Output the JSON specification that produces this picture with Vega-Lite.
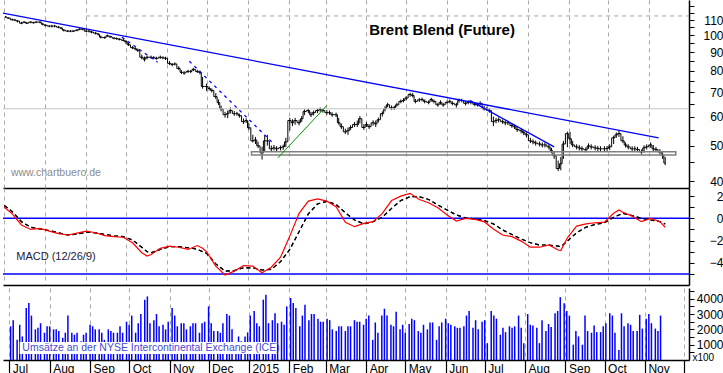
{
"$schema":"https://vega.github.io/schema/vega-lite/v6.json",
"padding":0,
"spacing":0,
"background":"white",
"config":{"view":{"stroke":null},"font":"Liberation Sans","concat":{"spacing":0},
"axis":{"labelFont":"Liberation Sans","labelColor":"black","domainColor":"black","tickColor":"black","labelFontSize":12,"title":null,"labelOverlap":false,"labelFlush":false}},
"datasets":{
"px":[
{"d":"2014-07-02","c":112.1,"h":112.9,"l":111.5,"v":2200},
{"d":"2014-07-04","c":111.4,"h":112.0,"l":110.9,"v":2600},
{"d":"2014-07-07","c":110.3,"h":111.0,"l":109.6,"v":1320},
{"d":"2014-07-09","c":110.0,"h":110.8,"l":109.3,"v":2300},
{"d":"2014-07-11","c":109.3,"h":110.0,"l":108.4,"v":1540},
{"d":"2014-07-14","c":107.9,"h":108.8,"l":107.2,"v":3400},
{"d":"2014-07-16","c":108.6,"h":109.3,"l":107.9,"v":3720},
{"d":"2014-07-18","c":107.9,"h":108.8,"l":107.3,"v":2900},
{"d":"2014-07-21","c":108.6,"h":109.2,"l":107.8,"v":2000},
{"d":"2014-07-23","c":108.2,"h":108.9,"l":107.6,"v":2100},
{"d":"2014-07-25","c":108.6,"h":109.4,"l":107.9,"v":2400},
{"d":"2014-07-28","c":108.6,"h":109.2,"l":107.8,"v":1780},
{"d":"2014-07-30","c":107.2,"h":108.0,"l":106.5,"v":2200},
{"d":"2014-08-01","c":106.5,"h":107.2,"l":105.7,"v":2200},
{"d":"2014-08-04","c":105.9,"h":106.6,"l":105.2,"v":2000},
{"d":"2014-08-06","c":105.9,"h":106.8,"l":105.0,"v":2000},
{"d":"2014-08-08","c":105.9,"h":106.7,"l":105.1,"v":1890},
{"d":"2014-08-11","c":105.2,"h":105.9,"l":104.5,"v":1450},
{"d":"2014-08-13","c":104.6,"h":105.3,"l":103.8,"v":1780},
{"d":"2014-08-15","c":103.2,"h":104.0,"l":102.4,"v":2900},
{"d":"2014-08-18","c":102.6,"h":103.3,"l":102.0,"v":1780},
{"d":"2014-08-20","c":102.6,"h":103.3,"l":101.9,"v":1650},
{"d":"2014-08-22","c":102.6,"h":103.4,"l":102.0,"v":1780},
{"d":"2014-08-25","c":103.2,"h":103.9,"l":102.5,"v":1230},
{"d":"2014-08-27","c":103.9,"h":104.5,"l":103.2,"v":1650},
{"d":"2014-08-29","c":103.9,"h":104.6,"l":103.2,"v":1780},
{"d":"2014-09-01","c":102.6,"h":104.0,"l":102.0,"v":2300},
{"d":"2014-09-03","c":102.6,"h":103.3,"l":101.8,"v":2200},
{"d":"2014-09-05","c":102.0,"h":102.8,"l":101.2,"v":2000},
{"d":"2014-09-08","c":101.3,"h":102.0,"l":100.5,"v":2000},
{"d":"2014-09-10","c":100.7,"h":101.4,"l":99.9,"v":1780},
{"d":"2014-09-12","c":98.8,"h":99.8,"l":98.0,"v":1320},
{"d":"2014-09-15","c":98.5,"h":99.3,"l":97.8,"v":2000},
{"d":"2014-09-17","c":99.7,"h":100.4,"l":99.0,"v":1890},
{"d":"2014-09-19","c":99.1,"h":99.8,"l":98.3,"v":1780},
{"d":"2014-09-22","c":98.2,"h":98.9,"l":97.5,"v":1780},
{"d":"2014-09-24","c":97.9,"h":98.6,"l":97.2,"v":2200},
{"d":"2014-09-26","c":97.5,"h":98.2,"l":96.8,"v":1780},
{"d":"2014-09-29","c":96.9,"h":97.7,"l":96.2,"v":2500},
{"d":"2014-10-01","c":96.0,"h":97.0,"l":94.8,"v":2300},
{"d":"2014-10-03","c":94.2,"h":95.5,"l":93.5,"v":2900},
{"d":"2014-10-06","c":92.5,"h":93.4,"l":91.7,"v":1780},
{"d":"2014-10-08","c":91.9,"h":92.8,"l":91.0,"v":2400},
{"d":"2014-10-10","c":91.0,"h":92.0,"l":90.0,"v":3000},
{"d":"2014-10-13","c":87.1,"h":88.6,"l":86.0,"v":3940},
{"d":"2014-10-15","c":86.0,"h":87.5,"l":84.8,"v":4150},
{"d":"2014-10-17","c":87.1,"h":88.0,"l":86.0,"v":2400},
{"d":"2014-10-20","c":87.1,"h":88.0,"l":86.3,"v":2600},
{"d":"2014-10-22","c":86.8,"h":87.7,"l":86.0,"v":3000},
{"d":"2014-10-24","c":86.5,"h":87.4,"l":85.7,"v":2200},
{"d":"2014-10-27","c":87.1,"h":88.0,"l":86.2,"v":2300},
{"d":"2014-10-29","c":86.8,"h":87.6,"l":86.0,"v":2000},
{"d":"2014-10-31","c":86.5,"h":87.4,"l":85.6,"v":2500},
{"d":"2014-11-03","c":83.8,"h":85.0,"l":83.0,"v":3400},
{"d":"2014-11-05","c":83.2,"h":84.0,"l":82.3,"v":2900},
{"d":"2014-11-07","c":83.5,"h":84.3,"l":82.7,"v":2200},
{"d":"2014-11-10","c":81.2,"h":82.3,"l":80.3,"v":2400},
{"d":"2014-11-12","c":79.2,"h":80.3,"l":78.4,"v":2400},
{"d":"2014-11-14","c":78.9,"h":79.8,"l":78.0,"v":2000},
{"d":"2014-11-17","c":79.7,"h":80.5,"l":78.9,"v":2200},
{"d":"2014-11-19","c":79.7,"h":80.4,"l":78.8,"v":2400},
{"d":"2014-11-21","c":80.7,"h":81.5,"l":79.8,"v":2400},
{"d":"2014-11-24","c":79.7,"h":80.5,"l":78.9,"v":1780},
{"d":"2014-11-26","c":79.2,"h":80.1,"l":78.2,"v":2400},
{"d":"2014-11-28","c":72.5,"h":77.0,"l":71.5,"v":2500},
{"d":"2014-12-01","c":72.5,"h":73.8,"l":70.5,"v":3500},
{"d":"2014-12-03","c":71.6,"h":72.5,"l":70.7,"v":2400},
{"d":"2014-12-05","c":70.7,"h":71.6,"l":69.8,"v":1890},
{"d":"2014-12-08","c":68.0,"h":69.5,"l":67.0,"v":1890},
{"d":"2014-12-10","c":65.5,"h":66.8,"l":64.5,"v":1780},
{"d":"2014-12-12","c":63.0,"h":64.3,"l":62.0,"v":2400},
{"d":"2014-12-15","c":60.7,"h":61.8,"l":59.6,"v":3000},
{"d":"2014-12-17","c":61.1,"h":62.3,"l":59.4,"v":2900},
{"d":"2014-12-19","c":62.3,"h":63.5,"l":61.2,"v":2000},
{"d":"2014-12-22","c":61.1,"h":62.1,"l":60.3,"v":1100},
{"d":"2014-12-24","c":61.1,"h":61.8,"l":60.4,"v":1540},
{"d":"2014-12-26","c":60.3,"h":61.1,"l":59.6,"v":1230},
{"d":"2014-12-29","c":58.1,"h":59.3,"l":57.3,"v":1540},
{"d":"2014-12-31","c":58.5,"h":59.3,"l":57.6,"v":1800},
{"d":"2015-01-02","c":55.9,"h":57.5,"l":55.2,"v":2900},
{"d":"2015-01-05","c":51.5,"h":53.5,"l":51.0,"v":3200},
{"d":"2015-01-07","c":51.8,"h":52.8,"l":50.5,"v":2400},
{"d":"2015-01-09","c":49.9,"h":51.2,"l":49.2,"v":2200},
{"d":"2015-01-12","c":47.7,"h":49.6,"l":45.8,"v":3940},
{"d":"2015-01-14","c":51.5,"h":53.3,"l":48.0,"v":4260},
{"d":"2015-01-16","c":51.5,"h":53.5,"l":50.0,"v":2400},
{"d":"2015-01-19","c":49.0,"h":50.0,"l":48.3,"v":2600},
{"d":"2015-01-21","c":49.3,"h":50.2,"l":48.5,"v":3050},
{"d":"2015-01-23","c":49.0,"h":49.8,"l":48.3,"v":2400},
{"d":"2015-01-26","c":49.3,"h":50.0,"l":48.5,"v":2500},
{"d":"2015-01-28","c":49.6,"h":50.3,"l":48.7,"v":2300},
{"d":"2015-01-30","c":51.2,"h":52.5,"l":49.5,"v":3500},
{"d":"2015-02-02","c":58.5,"h":59.5,"l":55.0,"v":4050},
{"d":"2015-02-04","c":57.7,"h":59.0,"l":56.5,"v":3720},
{"d":"2015-02-06","c":58.5,"h":59.5,"l":57.0,"v":3400},
{"d":"2015-02-09","c":57.7,"h":58.8,"l":56.8,"v":2200},
{"d":"2015-02-11","c":59.2,"h":60.2,"l":58.0,"v":2900},
{"d":"2015-02-13","c":61.9,"h":62.8,"l":60.5,"v":3600},
{"d":"2015-02-16","c":62.3,"h":63.0,"l":61.3,"v":2600},
{"d":"2015-02-18","c":60.7,"h":61.8,"l":59.8,"v":3000},
{"d":"2015-02-20","c":61.5,"h":62.3,"l":60.4,"v":3000},
{"d":"2015-02-23","c":62.3,"h":63.0,"l":61.3,"v":2700},
{"d":"2015-02-25","c":62.7,"h":63.5,"l":61.8,"v":2500},
{"d":"2015-02-27","c":62.3,"h":63.0,"l":61.5,"v":2500},
{"d":"2015-03-02","c":61.5,"h":62.5,"l":60.7,"v":2700},
{"d":"2015-03-04","c":61.5,"h":62.3,"l":60.7,"v":2600},
{"d":"2015-03-06","c":60.7,"h":61.6,"l":59.9,"v":2000},
{"d":"2015-03-09","c":60.7,"h":61.5,"l":59.8,"v":1890},
{"d":"2015-03-11","c":57.7,"h":59.5,"l":57.0,"v":2200},
{"d":"2015-03-13","c":56.3,"h":57.4,"l":55.5,"v":2200},
{"d":"2015-03-16","c":54.5,"h":55.6,"l":53.8,"v":1890},
{"d":"2015-03-18","c":54.9,"h":56.0,"l":53.5,"v":2200},
{"d":"2015-03-20","c":56.0,"h":56.8,"l":55.1,"v":2200},
{"d":"2015-03-23","c":57.1,"h":58.0,"l":56.2,"v":2600},
{"d":"2015-03-25","c":57.1,"h":58.5,"l":56.2,"v":2500},
{"d":"2015-03-27","c":59.2,"h":60.2,"l":57.5,"v":2500},
{"d":"2015-03-30","c":56.0,"h":57.2,"l":55.2,"v":2300},
{"d":"2015-04-01","c":57.1,"h":58.0,"l":56.2,"v":2700},
{"d":"2015-04-03","c":56.3,"h":57.2,"l":55.5,"v":2900},
{"d":"2015-04-06","c":57.7,"h":58.6,"l":56.7,"v":1320},
{"d":"2015-04-08","c":57.3,"h":58.5,"l":56.2,"v":2450},
{"d":"2015-04-10","c":58.8,"h":59.6,"l":57.8,"v":1780},
{"d":"2015-04-13","c":61.1,"h":62.0,"l":60.0,"v":2900},
{"d":"2015-04-15","c":63.0,"h":64.0,"l":62.0,"v":3350},
{"d":"2015-04-17","c":64.6,"h":65.4,"l":63.6,"v":2900},
{"d":"2015-04-20","c":63.4,"h":64.3,"l":62.6,"v":2300},
{"d":"2015-04-22","c":63.4,"h":64.2,"l":62.6,"v":2200},
{"d":"2015-04-24","c":64.6,"h":65.4,"l":63.8,"v":3150},
{"d":"2015-04-27","c":66.0,"h":66.8,"l":65.2,"v":2000},
{"d":"2015-04-29","c":66.4,"h":67.3,"l":65.6,"v":2300},
{"d":"2015-05-01","c":67.4,"h":68.2,"l":66.5,"v":1780},
{"d":"2015-05-04","c":68.9,"h":69.7,"l":67.9,"v":2350},
{"d":"2015-05-06","c":68.5,"h":69.6,"l":67.6,"v":2700},
{"d":"2015-05-08","c":66.0,"h":67.0,"l":65.2,"v":2600},
{"d":"2015-05-11","c":66.6,"h":67.4,"l":65.8,"v":1890},
{"d":"2015-05-13","c":66.8,"h":67.6,"l":66.0,"v":1780},
{"d":"2015-05-15","c":66.0,"h":66.8,"l":65.2,"v":2300},
{"d":"2015-05-18","c":65.6,"h":66.4,"l":64.8,"v":2000},
{"d":"2015-05-20","c":66.8,"h":67.5,"l":65.9,"v":2450},
{"d":"2015-05-22","c":66.0,"h":66.8,"l":65.2,"v":2450},
{"d":"2015-05-25","c":64.6,"h":65.4,"l":63.8,"v":1320},
{"d":"2015-05-27","c":65.6,"h":66.4,"l":64.7,"v":2200},
{"d":"2015-05-29","c":64.6,"h":65.4,"l":63.8,"v":2450},
{"d":"2015-06-01","c":65.6,"h":66.4,"l":64.8,"v":2700},
{"d":"2015-06-03","c":66.0,"h":66.8,"l":65.2,"v":2400},
{"d":"2015-06-05","c":65.2,"h":66.0,"l":64.4,"v":2300},
{"d":"2015-06-08","c":64.6,"h":65.4,"l":63.5,"v":2200},
{"d":"2015-06-10","c":66.4,"h":67.2,"l":65.5,"v":2100},
{"d":"2015-06-12","c":66.4,"h":67.1,"l":65.6,"v":2100},
{"d":"2015-06-15","c":65.2,"h":66.0,"l":64.3,"v":2200},
{"d":"2015-06-17","c":65.6,"h":66.4,"l":64.8,"v":2900},
{"d":"2015-06-19","c":65.6,"h":66.3,"l":64.8,"v":3200},
{"d":"2015-06-22","c":64.8,"h":65.6,"l":64.0,"v":2100},
{"d":"2015-06-24","c":64.6,"h":65.4,"l":63.9,"v":2600},
{"d":"2015-06-26","c":65.2,"h":66.0,"l":64.3,"v":2000},
{"d":"2015-06-29","c":63.0,"h":64.2,"l":62.3,"v":2500},
{"d":"2015-07-01","c":63.0,"h":63.8,"l":62.2,"v":2600},
{"d":"2015-07-03","c":62.3,"h":63.2,"l":61.5,"v":1100},
{"d":"2015-07-06","c":58.1,"h":60.0,"l":56.5,"v":3200},
{"d":"2015-07-08","c":58.5,"h":59.5,"l":57.5,"v":2900},
{"d":"2015-07-10","c":58.8,"h":59.7,"l":57.8,"v":2700},
{"d":"2015-07-13","c":58.1,"h":58.9,"l":57.3,"v":1650},
{"d":"2015-07-15","c":57.7,"h":58.5,"l":56.8,"v":2100},
{"d":"2015-07-17","c":57.7,"h":58.4,"l":56.9,"v":1820},
{"d":"2015-07-20","c":56.7,"h":57.5,"l":55.9,"v":2200},
{"d":"2015-07-22","c":56.3,"h":57.1,"l":55.5,"v":2100},
{"d":"2015-07-24","c":55.3,"h":56.2,"l":54.5,"v":2200},
{"d":"2015-07-27","c":54.9,"h":55.7,"l":54.0,"v":2900},
{"d":"2015-07-29","c":54.2,"h":55.0,"l":53.4,"v":2100},
{"d":"2015-07-31","c":53.5,"h":54.3,"l":52.6,"v":1100},
{"d":"2015-08-03","c":51.5,"h":52.5,"l":50.8,"v":3000},
{"d":"2015-08-05","c":51.2,"h":52.0,"l":50.4,"v":2300},
{"d":"2015-08-07","c":50.8,"h":51.6,"l":50.0,"v":2250},
{"d":"2015-08-10","c":50.5,"h":51.3,"l":49.7,"v":2100},
{"d":"2015-08-12","c":50.2,"h":51.0,"l":49.4,"v":1100},
{"d":"2015-08-14","c":50.2,"h":51.0,"l":49.4,"v":2600},
{"d":"2015-08-17","c":49.6,"h":50.4,"l":48.8,"v":1890},
{"d":"2015-08-19","c":48.4,"h":49.3,"l":47.6,"v":2350},
{"d":"2015-08-21","c":46.9,"h":48.0,"l":46.0,"v":2150},
{"d":"2015-08-24","c":43.3,"h":45.5,"l":42.6,"v":3050},
{"d":"2015-08-26","c":44.6,"h":46.5,"l":42.8,"v":3200},
{"d":"2015-08-28","c":50.5,"h":51.5,"l":46.0,"v":4100},
{"d":"2015-08-31","c":53.9,"h":54.6,"l":49.5,"v":3700},
{"d":"2015-09-02","c":52.2,"h":54.5,"l":50.5,"v":3200},
{"d":"2015-09-04","c":50.2,"h":51.5,"l":49.5,"v":2900},
{"d":"2015-09-07","c":49.6,"h":50.4,"l":48.8,"v":1000},
{"d":"2015-09-09","c":49.3,"h":50.2,"l":48.5,"v":1890},
{"d":"2015-09-11","c":49.0,"h":49.8,"l":48.2,"v":1540},
{"d":"2015-09-14","c":48.7,"h":49.5,"l":47.9,"v":1000},
{"d":"2015-09-16","c":49.9,"h":50.7,"l":49.0,"v":2900},
{"d":"2015-09-18","c":49.6,"h":50.4,"l":48.8,"v":1890},
{"d":"2015-09-21","c":49.3,"h":50.1,"l":48.5,"v":1780},
{"d":"2015-09-23","c":49.1,"h":49.9,"l":48.3,"v":2250},
{"d":"2015-09-25","c":49.0,"h":49.8,"l":48.2,"v":1820},
{"d":"2015-09-28","c":49.0,"h":49.8,"l":48.1,"v":1820},
{"d":"2015-09-30","c":49.1,"h":49.9,"l":48.3,"v":2200},
{"d":"2015-10-02","c":49.6,"h":50.4,"l":48.6,"v":2400},
{"d":"2015-10-05","c":52.5,"h":53.2,"l":50.5,"v":3050},
{"d":"2015-10-07","c":53.5,"h":54.3,"l":52.5,"v":2900},
{"d":"2015-10-09","c":53.9,"h":54.8,"l":52.8,"v":1780},
{"d":"2015-10-12","c":51.5,"h":53.0,"l":50.8,"v":650},
{"d":"2015-10-14","c":50.2,"h":51.0,"l":49.4,"v":3050},
{"d":"2015-10-16","c":49.6,"h":50.4,"l":48.8,"v":2200},
{"d":"2015-10-19","c":49.0,"h":49.8,"l":48.2,"v":2400},
{"d":"2015-10-21","c":49.0,"h":49.8,"l":48.2,"v":2300},
{"d":"2015-10-23","c":48.8,"h":49.6,"l":48.0,"v":1890},
{"d":"2015-10-26","c":48.0,"h":48.8,"l":47.2,"v":1890},
{"d":"2015-10-28","c":49.3,"h":50.1,"l":47.8,"v":2950},
{"d":"2015-10-30","c":49.6,"h":50.4,"l":48.8,"v":2050},
{"d":"2015-11-02","c":50.2,"h":51.0,"l":49.3,"v":2700},
{"d":"2015-11-04","c":49.0,"h":50.2,"l":48.3,"v":3000},
{"d":"2015-11-06","c":48.8,"h":49.6,"l":48.0,"v":2400},
{"d":"2015-11-09","c":48.0,"h":48.9,"l":47.3,"v":2050},
{"d":"2015-11-11","c":47.1,"h":48.0,"l":46.0,"v":1890},
{"d":"2015-11-13","c":44.8,"h":46.5,"l":44.2,"v":2900}
],
"macd":[
{"d":"2014-07-01","m":1.0,"s":1.15},{"d":"2014-07-07","m":0.4,"s":0.6},{"d":"2014-07-14","m":-0.6,"s":-0.3},{"d":"2014-07-21","m":-1.0,"s":-0.8},{"d":"2014-07-28","m":-0.9,"s":-0.95},
{"d":"2014-08-04","m":-1.15,"s":-1.1},{"d":"2014-08-11","m":-1.37,"s":-1.3},{"d":"2014-08-18","m":-1.5,"s":-1.5},{"d":"2014-08-25","m":-1.33,"s":-1.43},
{"d":"2014-09-01","m":-1.15,"s":-1.25},{"d":"2014-09-08","m":-1.3,"s":-1.3},{"d":"2014-09-15","m":-1.55,"s":-1.45},{"d":"2014-09-22","m":-1.65,"s":-1.57},{"d":"2014-09-29","m":-1.7,"s":-1.65},
{"d":"2014-10-06","m":-2.2,"s":-1.95},{"d":"2014-10-13","m":-3.1,"s":-2.6},{"d":"2014-10-17","m":-3.4,"s":-3.0},{"d":"2014-10-20","m":-3.25,"s":-3.1},{"d":"2014-10-27","m":-2.7,"s":-2.8},
{"d":"2014-11-03","m":-2.5,"s":-2.55},{"d":"2014-11-10","m":-2.6,"s":-2.55},{"d":"2014-11-17","m":-2.8,"s":-2.65},{"d":"2014-11-21","m":-2.6,"s":-2.7},{"d":"2014-11-24","m":-2.45,"s":-2.8},{"d":"2014-11-28","m":-2.7,"s":-3.0},
{"d":"2014-12-01","m":-3.0,"s":-3.15},{"d":"2014-12-08","m":-4.3,"s":-4.1},{"d":"2014-12-15","m":-5.1,"s":-4.75},{"d":"2014-12-22","m":-4.75,"s":-4.7},{"d":"2014-12-29","m":-4.25,"s":-4.45},
{"d":"2015-01-05","m":-4.3,"s":-4.45},{"d":"2015-01-12","m":-4.9,"s":-4.65},{"d":"2015-01-19","m":-4.4,"s":-4.6},{"d":"2015-01-26","m":-3.5,"s":-3.9},
{"d":"2015-02-02","m":-1.6,"s":-2.8},{"d":"2015-02-09","m":0.45,"s":-1.2},{"d":"2015-02-16","m":1.55,"s":0.4},{"d":"2015-02-23","m":1.75,"s":1.3},
{"d":"2015-03-02","m":1.55,"s":1.52},{"d":"2015-03-09","m":1.05,"s":1.25},{"d":"2015-03-16","m":-0.35,"s":0.5},{"d":"2015-03-23","m":-0.75,"s":-0.15},{"d":"2015-03-30","m":-0.45,"s":-0.5},
{"d":"2015-04-06","m":-0.3,"s":-0.3},{"d":"2015-04-13","m":0.45,"s":0.1},{"d":"2015-04-20","m":1.6,"s":0.9},{"d":"2015-04-27","m":2.0,"s":1.6},
{"d":"2015-05-04","m":2.25,"s":1.95},{"d":"2015-05-11","m":1.7,"s":1.95},{"d":"2015-05-18","m":1.4,"s":1.7},{"d":"2015-05-25","m":0.95,"s":1.2},
{"d":"2015-06-01","m":0.3,"s":0.75},{"d":"2015-06-08","m":-0.25,"s":0.3},{"d":"2015-06-15","m":0.0,"s":0.05},{"d":"2015-06-22","m":-0.1,"s":-0.05},{"d":"2015-06-29","m":-0.3,"s":-0.2},
{"d":"2015-07-06","m":-0.95,"s":-0.5},{"d":"2015-07-13","m":-1.5,"s":-1.05},{"d":"2015-07-20","m":-1.65,"s":-1.45},{"d":"2015-07-27","m":-2.05,"s":-1.85},
{"d":"2015-08-03","m":-2.6,"s":-2.2},{"d":"2015-08-10","m":-2.6,"s":-2.4},{"d":"2015-08-17","m":-2.4,"s":-2.4},{"d":"2015-08-24","m":-2.85,"s":-2.5},{"d":"2015-08-26","m":-2.9,"s":-2.55},{"d":"2015-08-31","m":-1.75,"s":-2.05},
{"d":"2015-09-07","m":-0.7,"s":-1.3},{"d":"2015-09-14","m":-0.5,"s":-0.8},{"d":"2015-09-21","m":-0.4,"s":-0.55},{"d":"2015-09-28","m":-0.35,"s":-0.4},
{"d":"2015-10-05","m":0.45,"s":0.1},{"d":"2015-10-09","m":0.75,"s":0.3},{"d":"2015-10-12","m":0.55,"s":0.45},{"d":"2015-10-19","m":0.2,"s":0.25},{"d":"2015-10-26","m":-0.3,"s":0.0},
{"d":"2015-11-02","m":0.0,"s":-0.15},{"d":"2015-11-09","m":-0.3,"s":-0.3},{"d":"2015-11-13","m":-0.8,"s":-0.5}
],
"tr":[
{"g":"L1","s":"solid","d":"2014-06-30","p":115.0},{"g":"L1","s":"solid","d":"2015-11-08","p":52.5},
{"g":"C","s":"solid","d":"2015-06-18","p":66.4},{"g":"C","s":"solid","d":"2015-08-21","p":49.6},
{"g":"A","s":"dash","d":"2014-09-28","p":98.8},{"g":"A","s":"dash","d":"2014-10-25","p":84.4},
{"g":"B","s":"dash","d":"2014-11-18","p":84.9},{"g":"B","s":"dash","d":"2015-01-20","p":50.9},
{"g":"G","s":"green","d":"2015-01-24","p":46.3},{"g":"G","s":"green","d":"2015-03-02","p":64.3}
]
},
"vconcat":[
{
"width":686,"height":188,
"layer":[
{"data":{"name":"px"},"mark":{"type":"rule","color":"black","strokeWidth":1},
"encoding":{
"x":{"field":"d","type":"temporal","scale":{"type":"utc","domain":[{"year":2014,"month":6,"date":30,"utc":true},{"year":2015,"month":12,"date":1,"utc":true}]},"axis":{"orient":"bottom","grid":true,"gridDash":[4,4],"gridColor":"#a4aaa4","gridWidth":1,"ticks":false,"labels":false,"domain":true,"domainWidth":1.5,"tickCount":{"interval":"month","step":1}}},
"y":{"field":"l","type":"quantitative","scale":{"type":"log","domain":[38.3,124.8],"nice":false,"zero":false},"axis":{"orient":"right","values":[40,45,50,55,60,65,70,75,80,85,90,95,100,105,110,115,120],"labelExpr":"(datum.value % 10 === 0 && datum.value < 115) ? format(datum.value,'d') : ''","labelOverlap":false,"tickSize":5,"labelAlign":"right","labelPadding":29,"labelBaseline":"middle","grid":false,"domainWidth":1.5}},
"y2":{"field":"h"}}},
{"data":{"name":"px"},"mark":{"type":"line","color":"black","strokeWidth":1,"interpolate":"step"},"encoding":{
"x":{"field":"d","type":"temporal","scale":{"type":"utc","domain":[{"year":2014,"month":6,"date":30,"utc":true},{"year":2015,"month":12,"date":1,"utc":true}]},"axis":{"orient":"bottom","grid":true,"gridDash":[4,4],"gridColor":"#a4aaa4","gridWidth":1,"ticks":false,"labels":false,"domain":true,"domainWidth":1.5,"tickCount":{"interval":"month","step":1}}},
"y":{"field":"c","type":"quantitative","scale":{"type":"log","domain":[38.3,124.8],"nice":false,"zero":false},"axis":{"orient":"right","values":[40,45,50,55,60,65,70,75,80,85,90,95,100,105,110,115,120],"labelExpr":"(datum.value % 10 === 0 && datum.value < 115) ? format(datum.value,'d') : ''","labelOverlap":false,"tickSize":5,"labelAlign":"right","labelPadding":29,"labelBaseline":"middle","grid":false,"domainWidth":1.5}}}},
{"data":{"values":[{}]},"mark":{"type":"rule","color":"#c4c4c4","strokeWidth":1},"encoding":{
"x":{"datum":{"year":2014,"month":6,"date":30,"utc":true},"type":"temporal","scale":{"type":"utc","domain":[{"year":2014,"month":6,"date":30,"utc":true},{"year":2015,"month":12,"date":1,"utc":true}]},"axis":{"orient":"bottom","grid":true,"gridDash":[4,4],"gridColor":"#a4aaa4","gridWidth":1,"ticks":false,"labels":false,"domain":true,"domainWidth":1.5,"tickCount":{"interval":"month","step":1}}},
"x2":{"datum":{"year":2015,"month":12,"date":1,"utc":true}},
"y":{"datum":63.0,"type":"quantitative","scale":{"type":"log","domain":[38.3,124.8],"nice":false,"zero":false},"axis":{"orient":"right","values":[40,45,50,55,60,65,70,75,80,85,90,95,100,105,110,115,120],"labelExpr":"(datum.value % 10 === 0 && datum.value < 115) ? format(datum.value,'d') : ''","labelOverlap":false,"tickSize":5,"labelAlign":"right","labelPadding":29,"labelBaseline":"middle","grid":false,"domainWidth":1.5}}}},
{"data":{"values":[{}]},"mark":{"type":"rule","color":"#a8a0a8","strokeWidth":1,"strokeDash":[4,4]},"encoding":{
"x":{"datum":{"year":2014,"month":9,"date":1,"utc":true},"type":"temporal","scale":{"type":"utc","domain":[{"year":2014,"month":6,"date":30,"utc":true},{"year":2015,"month":12,"date":1,"utc":true}]},"axis":{"orient":"bottom","grid":true,"gridDash":[4,4],"gridColor":"#a4aaa4","gridWidth":1,"ticks":false,"labels":false,"domain":true,"domainWidth":1.5,"tickCount":{"interval":"month","step":1}}},
"x2":{"datum":{"year":2015,"month":12,"date":1,"utc":true}},
"y":{"datum":112.9,"type":"quantitative","scale":{"type":"log","domain":[38.3,124.8],"nice":false,"zero":false},"axis":{"orient":"right","values":[40,45,50,55,60,65,70,75,80,85,90,95,100,105,110,115,120],"labelExpr":"(datum.value % 10 === 0 && datum.value < 115) ? format(datum.value,'d') : ''","labelOverlap":false,"tickSize":5,"labelAlign":"right","labelPadding":29,"labelBaseline":"middle","grid":false,"domainWidth":1.5}}}},
{"data":{"values":[{}]},"mark":{"type":"rect","fill":"#ffffff","fillOpacity":0.15,"stroke":"#808080","strokeWidth":1.5},"encoding":{
"x":{"datum":{"year":2015,"month":1,"date":4,"utc":true},"type":"temporal","scale":{"type":"utc","domain":[{"year":2014,"month":6,"date":30,"utc":true},{"year":2015,"month":12,"date":1,"utc":true}]},"axis":{"orient":"bottom","grid":true,"gridDash":[4,4],"gridColor":"#a4aaa4","gridWidth":1,"ticks":false,"labels":false,"domain":true,"domainWidth":1.5,"tickCount":{"interval":"month","step":1}}},
"x2":{"datum":{"year":2015,"month":11,"date":21,"utc":true}},
"y":{"datum":47.1,"type":"quantitative","scale":{"type":"log","domain":[38.3,124.8],"nice":false,"zero":false},"axis":{"orient":"right","values":[40,45,50,55,60,65,70,75,80,85,90,95,100,105,110,115,120],"labelExpr":"(datum.value % 10 === 0 && datum.value < 115) ? format(datum.value,'d') : ''","labelOverlap":false,"tickSize":5,"labelAlign":"right","labelPadding":29,"labelBaseline":"middle","grid":false,"domainWidth":1.5}},
"y2":{"datum":48.1}}},
{"data":{"name":"tr"},"transform":[{"filter":"datum.s === 'solid'"}],"mark":{"type":"line","color":"#0000ff","strokeWidth":1.3},"encoding":{
"x":{"field":"d","type":"temporal","scale":{"type":"utc","domain":[{"year":2014,"month":6,"date":30,"utc":true},{"year":2015,"month":12,"date":1,"utc":true}]},"axis":{"orient":"bottom","grid":true,"gridDash":[4,4],"gridColor":"#a4aaa4","gridWidth":1,"ticks":false,"labels":false,"domain":true,"domainWidth":1.5,"tickCount":{"interval":"month","step":1}}},
"y":{"field":"p","type":"quantitative","scale":{"type":"log","domain":[38.3,124.8],"nice":false,"zero":false},"axis":{"orient":"right","values":[40,45,50,55,60,65,70,75,80,85,90,95,100,105,110,115,120],"labelExpr":"(datum.value % 10 === 0 && datum.value < 115) ? format(datum.value,'d') : ''","labelOverlap":false,"tickSize":5,"labelAlign":"right","labelPadding":29,"labelBaseline":"middle","grid":false,"domainWidth":1.5}},
"detail":{"field":"g"}}},
{"data":{"name":"tr"},"transform":[{"filter":"datum.s === 'dash'"}],"mark":{"type":"line","color":"#0000ff","strokeWidth":1.3,"strokeDash":[3,4]},"encoding":{
"x":{"field":"d","type":"temporal","scale":{"type":"utc","domain":[{"year":2014,"month":6,"date":30,"utc":true},{"year":2015,"month":12,"date":1,"utc":true}]},"axis":{"orient":"bottom","grid":true,"gridDash":[4,4],"gridColor":"#a4aaa4","gridWidth":1,"ticks":false,"labels":false,"domain":true,"domainWidth":1.5,"tickCount":{"interval":"month","step":1}}},
"y":{"field":"p","type":"quantitative","scale":{"type":"log","domain":[38.3,124.8],"nice":false,"zero":false},"axis":{"orient":"right","values":[40,45,50,55,60,65,70,75,80,85,90,95,100,105,110,115,120],"labelExpr":"(datum.value % 10 === 0 && datum.value < 115) ? format(datum.value,'d') : ''","labelOverlap":false,"tickSize":5,"labelAlign":"right","labelPadding":29,"labelBaseline":"middle","grid":false,"domainWidth":1.5}},
"detail":{"field":"g"}}},
{"data":{"name":"tr"},"transform":[{"filter":"datum.s === 'green'"}],"mark":{"type":"line","color":"#009900","strokeWidth":1},"encoding":{
"x":{"field":"d","type":"temporal","scale":{"type":"utc","domain":[{"year":2014,"month":6,"date":30,"utc":true},{"year":2015,"month":12,"date":1,"utc":true}]},"axis":{"orient":"bottom","grid":true,"gridDash":[4,4],"gridColor":"#a4aaa4","gridWidth":1,"ticks":false,"labels":false,"domain":true,"domainWidth":1.5,"tickCount":{"interval":"month","step":1}}},
"y":{"field":"p","type":"quantitative","scale":{"type":"log","domain":[38.3,124.8],"nice":false,"zero":false},"axis":{"orient":"right","values":[40,45,50,55,60,65,70,75,80,85,90,95,100,105,110,115,120],"labelExpr":"(datum.value % 10 === 0 && datum.value < 115) ? format(datum.value,'d') : ''","labelOverlap":false,"tickSize":5,"labelAlign":"right","labelPadding":29,"labelBaseline":"middle","grid":false,"domainWidth":1.5}},
"detail":{"field":"g"}}},
{"data":{"values":[{}]},"mark":{"type":"text","text":"Brent Blend (Future)","fontSize":15,"fontWeight":"bold","font":"Liberation Sans","align":"left","baseline":"middle","color":"black"},"encoding":{
"x":{"datum":{"year":2015,"month":4,"date":3,"utc":true},"type":"temporal","scale":{"type":"utc","domain":[{"year":2014,"month":6,"date":30,"utc":true},{"year":2015,"month":12,"date":1,"utc":true}]},"axis":{"orient":"bottom","grid":true,"gridDash":[4,4],"gridColor":"#a4aaa4","gridWidth":1,"ticks":false,"labels":false,"domain":true,"domainWidth":1.5,"tickCount":{"interval":"month","step":1}}},
"y":{"datum":103.2,"type":"quantitative","scale":{"type":"log","domain":[38.3,124.8],"nice":false,"zero":false},"axis":{"orient":"right","values":[40,45,50,55,60,65,70,75,80,85,90,95,100,105,110,115,120],"labelExpr":"(datum.value % 10 === 0 && datum.value < 115) ? format(datum.value,'d') : ''","labelOverlap":false,"tickSize":5,"labelAlign":"right","labelPadding":29,"labelBaseline":"middle","grid":false,"domainWidth":1.5}}}},
{"data":{"values":[{}]},"mark":{"type":"text","text":"www.chartbuero.de","fontSize":10.5,"font":"Liberation Sans","align":"left","baseline":"middle","color":"#8a8a8a"},"encoding":{
"x":{"datum":{"year":2014,"month":7,"date":6,"utc":true},"type":"temporal","scale":{"type":"utc","domain":[{"year":2014,"month":6,"date":30,"utc":true},{"year":2015,"month":12,"date":1,"utc":true}]},"axis":{"orient":"bottom","grid":true,"gridDash":[4,4],"gridColor":"#a4aaa4","gridWidth":1,"ticks":false,"labels":false,"domain":true,"domainWidth":1.5,"tickCount":{"interval":"month","step":1}}},
"y":{"datum":42.1,"type":"quantitative","scale":{"type":"log","domain":[38.3,124.8],"nice":false,"zero":false},"axis":{"orient":"right","values":[40,45,50,55,60,65,70,75,80,85,90,95,100,105,110,115,120],"labelExpr":"(datum.value % 10 === 0 && datum.value < 115) ? format(datum.value,'d') : ''","labelOverlap":false,"tickSize":5,"labelAlign":"right","labelPadding":29,"labelBaseline":"middle","grid":false,"domainWidth":1.5}}}}
]
},
{
"width":686,"height":97,
"layer":[
{"data":{"name":"macd"},"mark":{"type":"line","color":"black","strokeWidth":1.2,"strokeDash":[4,3]},"encoding":{
"x":{"field":"d","type":"temporal","scale":{"type":"utc","domain":[{"year":2014,"month":6,"date":30,"utc":true},{"year":2015,"month":12,"date":1,"utc":true}]},"axis":{"orient":"bottom","grid":true,"gridDash":[4,4],"gridColor":"#a4aaa4","gridWidth":1,"ticks":false,"labels":false,"domain":true,"domainWidth":1.5,"tickCount":{"interval":"month","step":1}}},
"y":{"field":"s","type":"quantitative","scale":{"domain":[-6.0,2.73],"nice":false,"zero":false},"axis":{"orient":"right","values":[-5,-4,-3,-2,-1,0,1,2],"labelExpr":"(datum.value === 2 || datum.value === 0 || datum.value === -2 || datum.value === -4) ? format(datum.value,'d') : ''","labelOverlap":false,"tickSize":5,"labelAlign":"right","labelPadding":29,"labelBaseline":"middle","grid":false,"domainWidth":1.5}}}},
{"data":{"values":[{}]},"mark":{"type":"rule","color":"#0000ff","strokeWidth":1.5},"encoding":{
"y":{"datum":0,"type":"quantitative","scale":{"domain":[-6.0,2.73],"nice":false,"zero":false},"axis":{"orient":"right","values":[-5,-4,-3,-2,-1,0,1,2],"labelExpr":"(datum.value === 2 || datum.value === 0 || datum.value === -2 || datum.value === -4) ? format(datum.value,'d') : ''","labelOverlap":false,"tickSize":5,"labelAlign":"right","labelPadding":29,"labelBaseline":"middle","grid":false,"domainWidth":1.5}}}},
{"data":{"values":[{}]},"mark":{"type":"rule","color":"#0000ff","strokeWidth":1.5},"encoding":{
"y":{"datum":-5,"type":"quantitative","scale":{"domain":[-6.0,2.73],"nice":false,"zero":false},"axis":{"orient":"right","values":[-5,-4,-3,-2,-1,0,1,2],"labelExpr":"(datum.value === 2 || datum.value === 0 || datum.value === -2 || datum.value === -4) ? format(datum.value,'d') : ''","labelOverlap":false,"tickSize":5,"labelAlign":"right","labelPadding":29,"labelBaseline":"middle","grid":false,"domainWidth":1.5}}}},
{"data":{"name":"macd"},"mark":{"type":"line","color":"black","strokeWidth":1.2,"strokeDash":[4,3]},"encoding":{
"x":{"field":"d","type":"temporal","scale":{"type":"utc","domain":[{"year":2014,"month":6,"date":30,"utc":true},{"year":2015,"month":12,"date":1,"utc":true}]},"axis":{"orient":"bottom","grid":true,"gridDash":[4,4],"gridColor":"#a4aaa4","gridWidth":1,"ticks":false,"labels":false,"domain":true,"domainWidth":1.5,"tickCount":{"interval":"month","step":1}}},
"y":{"field":"s","type":"quantitative","scale":{"domain":[-6.0,2.73],"nice":false,"zero":false},"axis":{"orient":"right","values":[-5,-4,-3,-2,-1,0,1,2],"labelExpr":"(datum.value === 2 || datum.value === 0 || datum.value === -2 || datum.value === -4) ? format(datum.value,'d') : ''","labelOverlap":false,"tickSize":5,"labelAlign":"right","labelPadding":29,"labelBaseline":"middle","grid":false,"domainWidth":1.5}}}},
{"data":{"name":"macd"},"mark":{"type":"line","color":"#ff0000","strokeWidth":1.2},"encoding":{
"x":{"field":"d","type":"temporal","scale":{"type":"utc","domain":[{"year":2014,"month":6,"date":30,"utc":true},{"year":2015,"month":12,"date":1,"utc":true}]},"axis":{"orient":"bottom","grid":true,"gridDash":[4,4],"gridColor":"#a4aaa4","gridWidth":1,"ticks":false,"labels":false,"domain":true,"domainWidth":1.5,"tickCount":{"interval":"month","step":1}}},
"y":{"field":"m","type":"quantitative","scale":{"domain":[-6.0,2.73],"nice":false,"zero":false},"axis":{"orient":"right","values":[-5,-4,-3,-2,-1,0,1,2],"labelExpr":"(datum.value === 2 || datum.value === 0 || datum.value === -2 || datum.value === -4) ? format(datum.value,'d') : ''","labelOverlap":false,"tickSize":5,"labelAlign":"right","labelPadding":29,"labelBaseline":"middle","grid":false,"domainWidth":1.5}}}},
{"data":{"values":[{}]},"mark":{"type":"text","text":"MACD (12/26/9)","fontSize":11,"font":"Liberation Sans","align":"left","baseline":"middle","color":"#1a1a3a"},"encoding":{
"x":{"datum":{"year":2014,"month":7,"date":10,"utc":true},"type":"temporal","scale":{"type":"utc","domain":[{"year":2014,"month":6,"date":30,"utc":true},{"year":2015,"month":12,"date":1,"utc":true}]},"axis":{"orient":"bottom","grid":true,"gridDash":[4,4],"gridColor":"#a4aaa4","gridWidth":1,"ticks":false,"labels":false,"domain":true,"domainWidth":1.5,"tickCount":{"interval":"month","step":1}}},
"y":{"datum":-3.49,"type":"quantitative","scale":{"domain":[-6.0,2.73],"nice":false,"zero":false},"axis":{"orient":"right","values":[-5,-4,-3,-2,-1,0,1,2],"labelExpr":"(datum.value === 2 || datum.value === 0 || datum.value === -2 || datum.value === -4) ? format(datum.value,'d') : ''","labelOverlap":false,"tickSize":5,"labelAlign":"right","labelPadding":29,"labelBaseline":"middle","grid":false,"domainWidth":1.5}}}}
]
},
{
"width":686,"height":72,
"layer":[
{"data":{"name":"px"},"mark":{"type":"bar","color":"#0000ff","width":1.5},"encoding":{
"x":{"field":"d","type":"temporal","scale":{"type":"utc","domain":[{"year":2014,"month":6,"date":30,"utc":true},{"year":2015,"month":12,"date":1,"utc":true}]},"axis":{"orient":"bottom","grid":true,"gridDash":[4,4],"gridColor":"#a4aaa4","gridWidth":1,"ticks":true,"tickSize":16,"tickWidth":1.2,"labels":true,"labelAlign":"left","labelBaseline":"alphabetic","labelPadding":-4,"labelOffset":3,"labelFontSize":12,"labelOverlap":false,"domain":true,"domainWidth":1.5,"tickCount":{"interval":"month","step":1},"labelExpr":"utcmonth(datum.value) === 0 ? utcFormat(datum.value,'%Y') : ((utcyear(datum.value) === 2015 && utcmonth(datum.value) === 11) ? '' : utcFormat(datum.value,'%b'))"}},
"y":{"field":"v","type":"quantitative","scale":{"domain":[0,4700],"nice":false},"axis":{"orient":"right","values":[500,1000,1500,2000,2500,3000,3500,4000,4500],"labelExpr":"datum.value === 500 ? 'x100' : ((datum.value === 1000 || datum.value === 2000 || datum.value === 3000 || datum.value === 4000) ? format(datum.value,'d') : '')","labelOverlap":false,"tickSize":5,"labelAlign":{"condition":{"test":"datum.value === 500","value":"left"},"value":"right"},"labelPadding":{"condition":{"test":"datum.value === 500","value":-2},"value":29},"labelFontSize":{"condition":{"test":"datum.value === 500","value":10},"value":12},"labelOffset":{"condition":{"test":"datum.value === 500","value":5},"value":0},"labelBaseline":"middle","grid":false,"domainWidth":1.5}}}},
{"data":{"values":[{}]},"mark":{"type":"rect","fill":"white"},"encoding":{
"x":{"datum":{"year":2014,"month":7,"date":9,"utc":true},"type":"temporal","scale":{"type":"utc","domain":[{"year":2014,"month":6,"date":30,"utc":true},{"year":2015,"month":12,"date":1,"utc":true}]},"axis":{"orient":"bottom","grid":true,"gridDash":[4,4],"gridColor":"#a4aaa4","gridWidth":1,"ticks":true,"tickSize":16,"tickWidth":1.2,"labels":true,"labelAlign":"left","labelBaseline":"alphabetic","labelPadding":-4,"labelOffset":3,"labelFontSize":12,"labelOverlap":false,"domain":true,"domainWidth":1.5,"tickCount":{"interval":"month","step":1},"labelExpr":"utcmonth(datum.value) === 0 ? utcFormat(datum.value,'%Y') : ((utcyear(datum.value) === 2015 && utcmonth(datum.value) === 11) ? '' : utcFormat(datum.value,'%b'))"}},
"x2":{"datum":{"year":2015,"month":1,"date":22,"utc":true}},
"y":{"datum":391,"type":"quantitative","scale":{"domain":[0,4700],"nice":false},"axis":{"orient":"right","values":[500,1000,1500,2000,2500,3000,3500,4000,4500],"labelExpr":"datum.value === 500 ? 'x100' : ((datum.value === 1000 || datum.value === 2000 || datum.value === 3000 || datum.value === 4000) ? format(datum.value,'d') : '')","labelOverlap":false,"tickSize":5,"labelAlign":{"condition":{"test":"datum.value === 500","value":"left"},"value":"right"},"labelPadding":{"condition":{"test":"datum.value === 500","value":-2},"value":29},"labelFontSize":{"condition":{"test":"datum.value === 500","value":10},"value":12},"labelOffset":{"condition":{"test":"datum.value === 500","value":5},"value":0},"labelBaseline":"middle","grid":false,"domainWidth":1.5}},
"y2":{"datum":1174}}},
{"data":{"values":[{}]},"mark":{"type":"text","text":"Umsätze an der NYSE  Intercontinental Exchange (ICE)","fontSize":10.5,"font":"Liberation Sans","align":"left","baseline":"middle","color":"#4a4ad0"},"encoding":{
"x":{"datum":{"year":2014,"month":7,"date":11,"utc":true},"type":"temporal","scale":{"type":"utc","domain":[{"year":2014,"month":6,"date":30,"utc":true},{"year":2015,"month":12,"date":1,"utc":true}]},"axis":{"orient":"bottom","grid":true,"gridDash":[4,4],"gridColor":"#a4aaa4","gridWidth":1,"ticks":true,"tickSize":16,"tickWidth":1.2,"labels":true,"labelAlign":"left","labelBaseline":"alphabetic","labelPadding":-4,"labelOffset":3,"labelFontSize":12,"labelOverlap":false,"domain":true,"domainWidth":1.5,"tickCount":{"interval":"month","step":1},"labelExpr":"utcmonth(datum.value) === 0 ? utcFormat(datum.value,'%Y') : ((utcyear(datum.value) === 2015 && utcmonth(datum.value) === 11) ? '' : utcFormat(datum.value,'%b'))"}},
"y":{"datum":783,"type":"quantitative","scale":{"domain":[0,4700],"nice":false},"axis":{"orient":"right","values":[500,1000,1500,2000,2500,3000,3500,4000,4500],"labelExpr":"datum.value === 500 ? 'x100' : ((datum.value === 1000 || datum.value === 2000 || datum.value === 3000 || datum.value === 4000) ? format(datum.value,'d') : '')","labelOverlap":false,"tickSize":5,"labelAlign":{"condition":{"test":"datum.value === 500","value":"left"},"value":"right"},"labelPadding":{"condition":{"test":"datum.value === 500","value":-2},"value":29},"labelFontSize":{"condition":{"test":"datum.value === 500","value":10},"value":12},"labelOffset":{"condition":{"test":"datum.value === 500","value":5},"value":0},"labelBaseline":"middle","grid":false,"domainWidth":1.5}}}}
]
}
]
}
